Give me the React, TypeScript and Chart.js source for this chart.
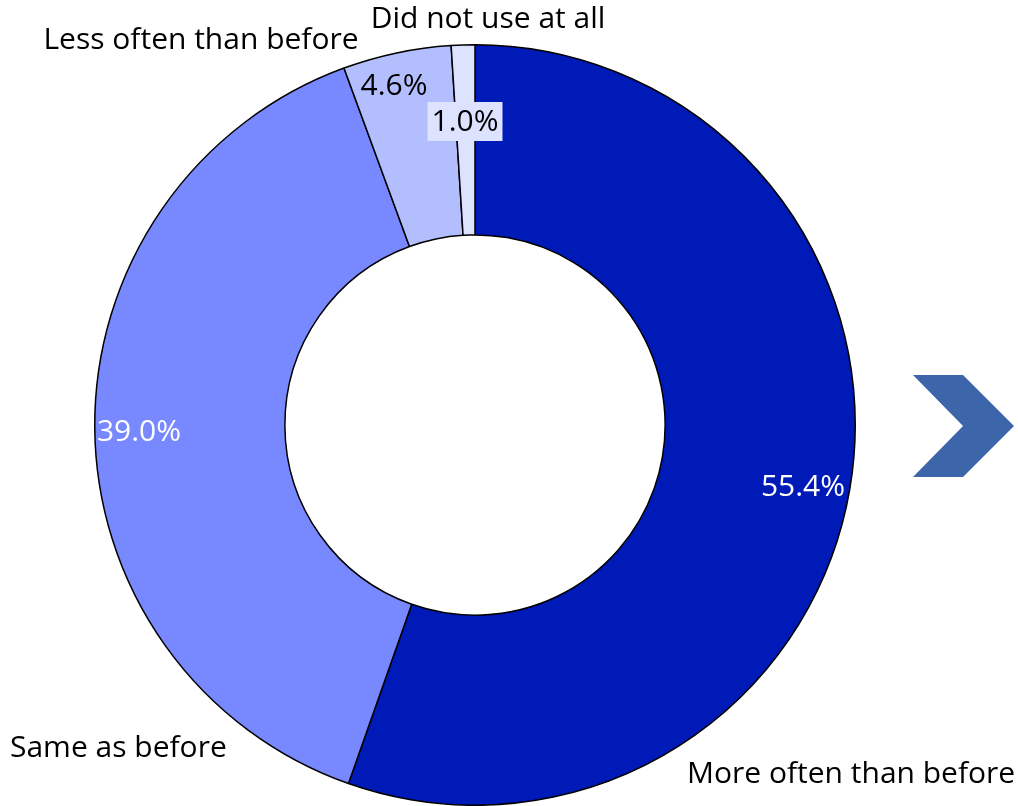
import React, { useEffect, useRef } from "react";
import { Chart, registerables } from "chart.js";

Chart.register(...registerables);

const categories = ["More often than before", "Same as before", "Less often than before", "Did not use at all"];
const values = [55.4, 39.0, 4.6, 1.0];
const valueLabels = ["55.4%", "39.0%", "4.6%", "1.0%"];
const colors = ["#001AB8", "#7888FF", "#B3BEFF", "#DDE2FF"];
const pctColors = ["#FFFFFF", "#FFFFFF", "#000000", "#000000"];

const FONT = "'Open Sans', 'Noto Sans', sans-serif";

const labelPlugin = {
  id: "customLabels",
  afterDraw(chart: any) {
    const ctx = chart.ctx;
    const meta = chart.getDatasetMeta(0);
    const arc0 = meta.data[0];
    const cx = arc0.x;
    const cy = arc0.y;
    ctx.save();
    ctx.font = `30px ${FONT}`;
    ctx.textBaseline = "middle";
    // percentage labels (offsets from centre)
    const pctPos = [
      [328, 62],
      [-336, 7],
      [-81, -339],
      [-10, -303],
    ];
    meta.data.forEach((_: any, i: number) => {
      const x = cx + pctPos[i][0];
      const y = cy + pctPos[i][1];
      ctx.textAlign = "center";
      if (i === 3) {
        const w = ctx.measureText(valueLabels[i]).width + 8;
        ctx.fillStyle = colors[3];
        ctx.fillRect(x - w / 2, y - 20, w, 39);
      }
      ctx.fillStyle = pctColors[i];
      ctx.fillText(valueLabels[i], x, y);
    });
    // category labels
    ctx.fillStyle = "#000000";
    ctx.textAlign = "left";
    ctx.fillText(categories[0], 687, 774);
    ctx.fillText(categories[1], 10, 748);
    ctx.textAlign = "center";
    ctx.fillText(categories[2], 201, 40);
    ctx.fillText(categories[3], 488, 19);
    // chevron arrow
    ctx.fillStyle = "#3D65AA";
    ctx.beginPath();
    ctx.moveTo(913, 375);
    ctx.lineTo(963, 375);
    ctx.lineTo(1014, 426);
    ctx.lineTo(963, 477);
    ctx.lineTo(913, 477);
    ctx.lineTo(963, 426);
    ctx.closePath();
    ctx.fill();
    ctx.restore();
  },
};

export default function App() {
  const ref = useRef<HTMLCanvasElement>(null);
  useEffect(() => {
    if (!ref.current) return;
    const chart = new Chart(ref.current, {
      type: "doughnut",
      data: {
        labels: categories,
        datasets: [
          {
            data: values,
            backgroundColor: colors,
            borderColor: "#000000",
            borderWidth: 1.5,
          },
        ],
      },
      options: {
        responsive: false,
        animation: false,
        cutout: "50%",
        layout: { padding: { left: 94, right: 162, top: 44, bottom: 0 } },
        plugins: {
          legend: { display: false },
          tooltip: { enabled: false },
        },
      },
      plugins: [labelPlugin],
    });
    return () => chart.destroy();
  }, []);
  return (
    <div style={{ position: "absolute", left: 0, top: 0, width: 1018, height: 806, background: "#fff" }}>
      <canvas ref={ref} width={1018} height={806} />
    </div>
  );
}
